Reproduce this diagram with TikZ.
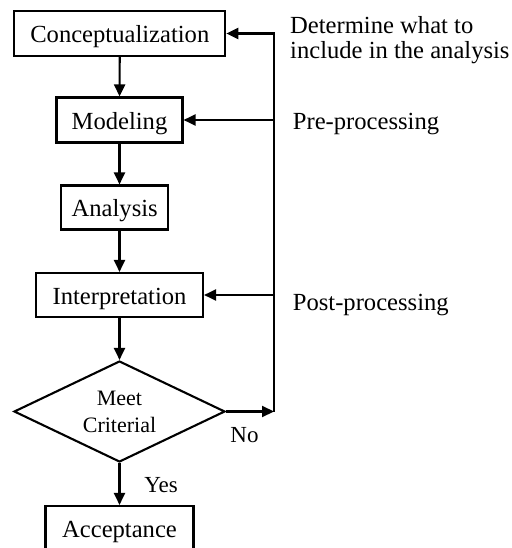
\documentclass[tikz,border=0pt]{standalone}
\usepackage{fontspec}
\setmainfont{Liberation Serif}
\usetikzlibrary{arrows.meta,shapes.geometric}
\begin{document}
\begin{tikzpicture}[x=1pt,y=-1pt,
  box/.style={draw, line width=2.1pt, inner sep=0pt, text height=18.4pt, text depth=0pt,
              font=\fontsize{24.6}{25}\selectfont},
  conn/.style={line width=2.1pt, -{Triangle[length=12pt,width=11pt]}},
  lbl/.style={font=\fontsize{24.6}{25}\selectfont, inner sep=0pt},
  small/.style={font=\fontsize{23}{25}\selectfont, inner sep=0pt}]
\clip (0,0) rectangle (511,548);
\node[box, minimum width=211pt, minimum height=45pt] (c) at (119.8,33.5) {Conceptualization};
\node[box, minimum width=126pt, minimum height=45pt] (m) at (119.5,120) {Modeling};
\node[box, minimum width=107pt, minimum height=44pt] (a) at (114.7,207.5) {Analysis};
\node[box, minimum width=167pt, minimum height=44pt] (i) at (119.5,295) {Interpretation};
\node[draw, line width=2.1pt, inner sep=0pt, diamond, aspect=2, minimum width=211pt,
      minimum height=101pt, align=center,
      font=\fontsize{22}{27}\selectfont] (d) at (119.5,411.5) {Meet\\Criterial};
\node[box, minimum width=148pt, minimum height=45pt] (acc) at (119.5,528.5) {Acceptance};

\coordinate (top) at (274,33.5);
\coordinate (nojoin) at (d.east -| top);

\draw[conn] (c) -- (m);
\draw[conn] (m.south) -- (m.south |- a.north);
\draw[conn] (i.north |- a.south) -- (i.north);
\draw[conn] (i) -- (d);
\draw[conn] (d) -- (acc);
\draw[conn] (d.east) -- (nojoin);
\draw[conn] (nojoin) -- (top) -- (c.east);
\draw[conn] (m.east -| top) -- (m.east);
\draw[conn] (i.east -| top) -- (i.east);

\node[lbl, anchor=base west] (t1) at (290,33.3) {Determine what to};
\node[lbl, anchor=base west] (t2) at (290,58.3) {include in the analysis};
\node[lbl, anchor=base west] (pre) at (292.7,130) {Pre-processing};
\node[lbl, anchor=base west] (post) at (292.7,310) {Post-processing};
\node[small] (no) at (244.5,435) {No};
\node[small] (yes) at (161,485) {Yes};
\end{tikzpicture}
\end{document}
